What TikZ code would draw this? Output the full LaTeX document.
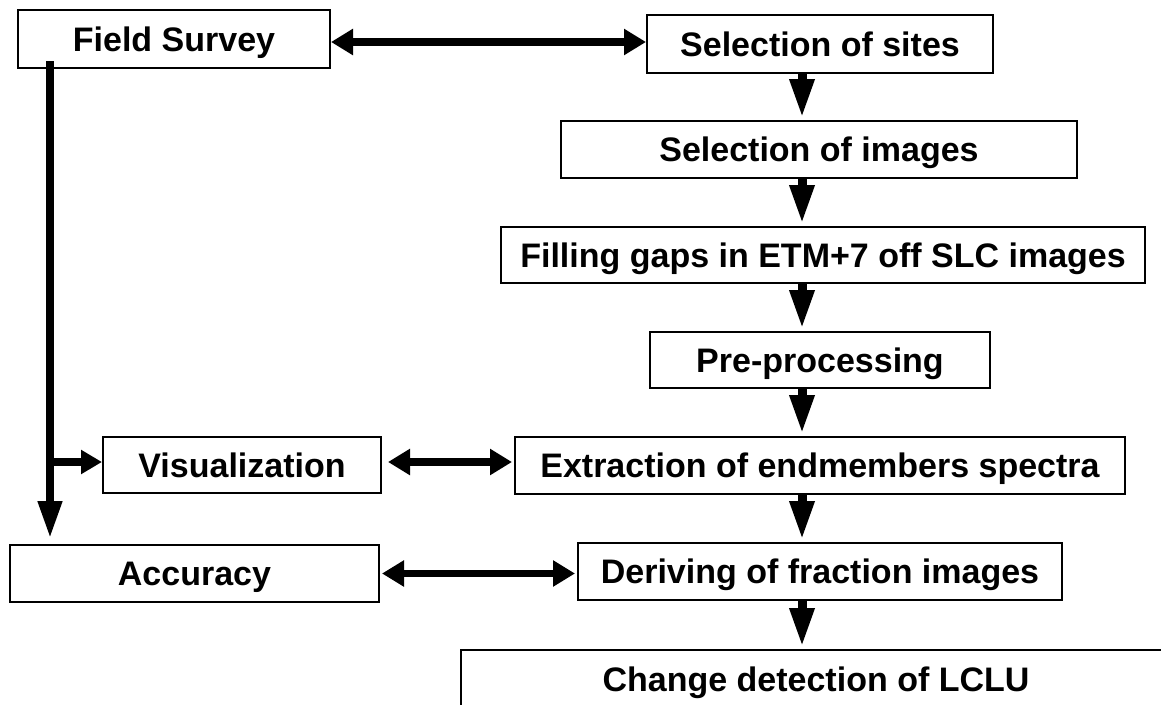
\documentclass[tikz,border=0pt]{standalone}
\usepackage{fontspec}
\setmainfont{Liberation Sans}
\usetikzlibrary{arrows.meta,calc}
\begin{document}
\begin{tikzpicture}[x=1pt,y=-1pt,
  box/.style={draw=black, line width=2pt, inner sep=0pt, fill=white,
    font=\fontsize{34}{40}\selectfont\bfseries, text height=24pt, text depth=0pt},
  flow/.style={line width=9pt, -{Triangle[length=39pt,width=23pt]}, shorten >=2pt},
  dbl/.style={line width=7.5pt, {Triangle[length=22pt,width=25pt]}-{Triangle[length=22pt,width=25pt]}},
  branch/.style={line width=7.5pt, -{Triangle[length=21pt,width=23pt]}}
]
\useasboundingbox (0,0) rectangle (1161,704);
\clip (0,0) rectangle (1161,704);

\node[box, minimum width=312pt, minimum height=58pt] (fs) at (174,39) {Field Survey};
\node[box, minimum width=346pt, minimum height=58pt] (sites) at (820,44) {Selection of sites};
\node[box, minimum width=516pt, minimum height=57pt] (images) at (819,149.5) {Selection of images};
\node[box, minimum width=644pt, minimum height=56pt] (filling) at (823,255) {Filling gaps in ETM+7 off SLC images};
\node[box, minimum width=340pt, minimum height=56pt] (pre) at (820,360) {Pre-processing};
\node[box, minimum width=610pt, minimum height=57pt] (ext) at (820,465.5) {Extraction of endmembers spectra};
\node[box, minimum width=278pt, minimum height=56pt] (vis) at (242,465) {Visualization};
\node[box, minimum width=369pt, minimum height=57pt] (acc) at (194.5,573.5) {Accuracy};
\node[box, minimum width=484pt, minimum height=57pt] (der) at (820,571.5) {Deriving of fraction images};
\node[box, minimum width=710pt, minimum height=58pt] (chg) at (816,679) {Change detection of LCLU};

\coordinate (ax) at (802,0);
\coordinate (vx) at (50,0);

\draw[flow] (sites.south -| ax) -- (images.north -| ax);
\draw[flow] (images.south -| ax) -- (filling.north -| ax);
\draw[flow] (filling.south -| ax) -- (pre.north -| ax);
\draw[flow] (pre.south -| ax) -- (ext.north -| ax);
\draw[flow] (ext.south -| ax) -- (der.north -| ax);
\draw[flow] (der.south -| ax) -- (chg.north -| ax);

\draw[dbl] ([yshift=-3pt]fs.east) -- ([yshift=-3pt]fs.east -| sites.west);
\draw[dbl, shorten <=6pt, shorten >=2pt] ([yshift=3pt]vis.east) -- ([yshift=3pt]vis.east -| ext.west);
\draw[dbl, shorten <=2pt, shorten >=2pt] (acc.east) -- (acc.east -| der.west);

\draw[line width=7.5pt, -{Triangle[length=37pt,width=23pt]}, shorten >=6pt]
  ($(fs.south -| vx)+(0,-8)$) -- (acc.north -| vx);
\draw[branch] ([yshift=3pt]vis.west -| vx) -- ([yshift=3pt]vis.west);
\end{tikzpicture}
\end{document}
